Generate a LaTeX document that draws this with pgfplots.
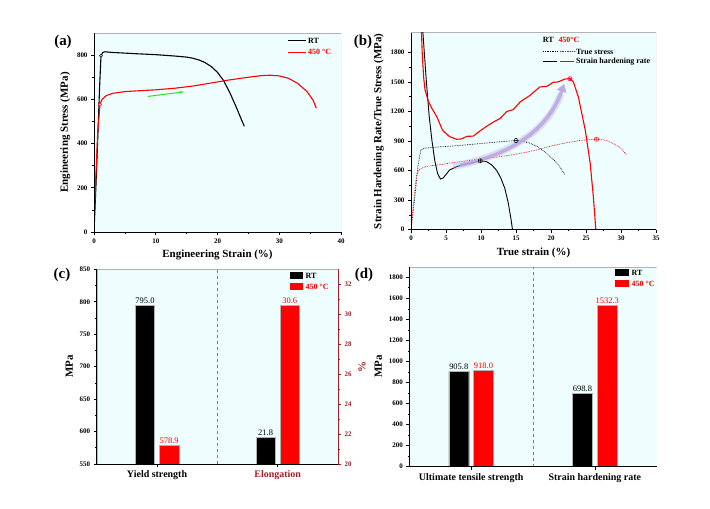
\documentclass[border=0pt]{standalone}
\usepackage{fontspec}
\setmainfont{Liberation Serif}
\usepackage{pgfplots}
\pgfplotsset{compat=1.18}
\usetikzlibrary{arrows.meta}
\definecolor{bgc}{RGB}{238,253,253}
\definecolor{dred}{RGB}{160,30,40}
\definecolor{lav}{RGB}{185,165,225}
\definecolor{grn}{RGB}{40,230,40}
\pgfplotsset{
 myax/.style={scale only axis, anchor=south west, axis on top,
  axis x line*=bottom, axis y line*=left,
  x axis line style={-, line width=0.8bp}, y axis line style={-, line width=0.8bp},
  tick align=outside, major tick length=3bp, minor tick length=1.6bp,
  every tick/.append style={black, line width=0.6bp},
  tick label style={font=\fontsize{7}{8}\selectfont\bfseries},
  /pgf/number format/assume math mode=true,
  /pgf/number format/1000 sep={},
  label style={font=\fontsize{11}{13}\selectfont\bfseries},
 },
 barax/.style={myax, xmin=-0.5, xmax=1.5, xtick={0,1},
  xticklabel style={font=\fontsize{10}{12}\selectfont\bfseries},
  minor y tick num=1},
 bl/.style={ybar, bar width=0.16, bar shift=0pt, fill=black, draw=gray!60, line width=0.3bp,
  nodes near coords={\pgfmathprintnumber[fixed,zerofill,precision=1]{\pgfplotspointmeta}},
  every node near coord/.append style={font=\fontsize{8.5}{10}\selectfont, black, inner sep=1.5bp}},
 rd/.style={ybar, bar width=0.16, bar shift=0pt, fill=red, draw=gray!60, line width=0.3bp,
  nodes near coords={\pgfmathprintnumber[fixed,zerofill,precision=1]{\pgfplotspointmeta}},
  every node near coord/.append style={font=\fontsize{8.5}{10}\selectfont, red, inner sep=1.5bp}},
}
\newcommand{\bgbox}{\path[fill=bgc, draw=gray!60, line width=0.4bp] (rel axis cs:0,0) rectangle (rel axis cs:1,1);}
\begin{document}
\begin{tikzpicture}
\useasboundingbox (0,0) rectangle (710bp,509bp);
% ---------------- (a)
\begin{axis}[myax, at={(94bp,277bp)}, width=247bp, height=199bp,
  xmin=0, xmax=40, ymin=0, ymax=900, xtick={0,10,20,30,40}, ytick={0,200,400,600,800},
  minor x tick num=1, minor y tick num=1,
  xlabel={Engineering Strain (\%)}, ylabel={Engineering Stress (MPa)}]
\bgbox
\addplot[black, line width=1.1bp] coordinates {(0,0) (0.3,200) (0.6,420) (0.9,650) (1.13,797) (1.4,812) (1.8,815) (3,812) (5,809) (7,806) (10,802) (13,796) (15,791) (16,786) (17,778) (18,766) (19,748) (20,722) (21,684) (22,630) (23,567) (24,500) (24.35,478)};
\addplot[red, line width=1.1bp] coordinates {(0,40) (0.3,250) (0.6,450) (0.97,577) (1.3,600) (2,617) (3,627) (5,635) (8,640) (10,643) (13,650) (16,660) (19,674) (22,688) (25,700) (27,707) (28.5,709) (30,706) (31.5,695) (33,672) (34.5,635) (35.5,595) (36,560)};
\addplot[only marks, mark=*, mark size=1.5bp, black, fill=white, line width=0.5bp] coordinates {(1.13,797)};
\addplot[only marks, mark=*, mark size=1.5bp, red, fill=white, line width=0.5bp] coordinates {(0.97,577)};
\draw[grn, line width=1bp, -{Latex[length=4bp,width=3bp]}] (axis cs:8.7,613) -- (axis cs:14.6,634);
\end{axis}
% ---------------- (b)
\begin{axis}[myax, at={(411bp,279.3bp)}, width=245bp, height=197bp,
  xmin=0, xmax=35, ymin=0, ymax=2000, xtick={0,5,...,35}, ytick={0,300,...,1800},
  minor x tick num=1, minor y tick num=1,
  xlabel={True strain (\%)}, ylabel={Strain Hardening Rate/True Stress (MPa)}]
\bgbox
\addplot[black, line width=0.7bp, densely dotted] coordinates {(0,0) (0.5,300) (1,650) (1.4,810) (2,828) (4,840) (6,850) (8,862) (10,875) (12,888) (14,900) (15,905) (16,898) (17,878) (18,845) (19,795) (20,735) (21,665) (22,560)};
\addplot[red, line width=0.7bp, densely dotted] coordinates {(0,0) (0.4,300) (0.8,560) (1.2,610) (2,640) (4,660) (6,680) (8,700) (10,718) (12,735) (14,755) (16,780) (18,810) (20,850) (22,880) (24,905) (26.5,919) (27.5,912) (28.5,890) (29.5,850) (30.2,810) (30.8,760)};
\addplot[black, line width=0.9bp] coordinates {(1.6,2100) (1.8,1900) (2.2,1500) (2.6,1150) (3.0,900) (3.4,700) (3.8,570) (4.2,515) (4.6,525) (5.0,560) (5.5,605) (6.5,640) (8,668) (9.9,699) (10.8,690) (11.5,660) (12.2,605) (12.8,530) (13.4,420) (13.9,270) (14.3,100) (14.5,0)};
\addplot[red, line width=1.1bp] coordinates {(1.45,2100) (1.6,1800) (1.8,1550) (2.0,1420) (2.5,1300) (3,1230) (3.7,1145) (4.5,1010) (5.5,945) (6.5,918) (7.2,922) (8,948) (8.9,950) (9.9,1005) (10.8,1050) (11.8,1094) (12.7,1128) (13.7,1200) (14.6,1219) (15.6,1297) (17,1364) (18.4,1449) (19.4,1455) (20.3,1496) (21,1500) (22,1530) (22.7,1533) (23.2,1500) (23.9,1350) (24.4,1180) (24.9,1010) (25.6,672) (26.05,334) (26.4,0)};
\draw[lav, opacity=0.35, line width=7bp] (axis cs:6,640) .. controls (axis cs:14,760) and (axis cs:19.5,1000) .. (axis cs:21.4,1380);
\draw[lav, opacity=0.85, line width=3.5bp, -{Triangle[length=8bp,width=10bp]}] (axis cs:7,655) .. controls (axis cs:14,760) and (axis cs:19.5,1000) .. (axis cs:21.9,1480);
\addplot[only marks, mark=oplus, mark size=2.2bp, black, line width=0.4bp] coordinates {(15,905) (9.9,699)};
\addplot[only marks, mark=oplus, mark size=2.2bp, red, line width=0.4bp] coordinates {(22.7,1533) (26.5,919)};
\end{axis}
% ---------------- (c)
\begin{axis}[barax, at={(96.7bp,45bp)}, width=241.3bp, height=194.7bp,
  ymin=550, ymax=850, ytick={550,600,...,850},
  xticklabels={Yield strength,{\color{dred}Elongation}},
  ylabel={MPa}]
\bgbox
\draw[gray, dashed, line width=0.5bp] (axis cs:0.5,550) -- (axis cs:0.5,850);
\addplot[bl] coordinates {(-0.1,795.0)};
\addplot[rd] coordinates {(0.1,578.9)};
\end{axis}
\begin{axis}[myax, at={(96.7bp,45bp)}, width=241.3bp, height=194.7bp,
  axis x line=none, axis y line*=right,
  y axis line style={dred, line width=0.8bp},
  every tick/.append style={dred},
  yticklabel style={dred},
  xmin=-0.5, xmax=1.5, ymin=20, ymax=33, ytick={20,22,...,32}, minor y tick num=1,
  ylabel={\%}, ylabel style={dred}]
\addplot[bl] coordinates {(0.9,21.8)};
\addplot[rd] coordinates {(1.1,30.6)};
\end{axis}
% ---------------- (d)
\begin{axis}[barax, at={(409.3bp,42.3bp)}, width=247.4bp, height=200bp,
  ymin=0, ymax=1900, ytick={0,200,...,1800},
  xticklabels={Ultimate tensile strength,Strain hardening rate},
  ylabel={MPa}]
\bgbox
\draw[gray, dashed, line width=0.5bp] (axis cs:0.5,0) -- (axis cs:0.5,1900);
\addplot[bl] coordinates {(-0.1,905.8) (0.9,698.8)};
\addplot[rd] coordinates {(0.1,918.0) (1.1,1532.3)};
\end{axis}
% ---------------- panel labels
\node[font=\fontsize{15}{18}\selectfont\bfseries] at (63bp,467bp) {(a)};
\node[font=\fontsize{15}{18}\selectfont\bfseries] at (363bp,467.5bp) {(b)};
\node[font=\fontsize{15}{18}\selectfont\bfseries] at (62bp,234bp) {(c)};
\node[font=\fontsize{15}{18}\selectfont\bfseries] at (364bp,234bp) {(d)};
% ---------------- legends
\begin{scope}[every node/.style={font=\fontsize{8}{9}\selectfont\bfseries, inner sep=0pt, anchor=west}]
% (a)
\draw[black, line width=1bp] (288bp,468bp) -- (306bp,468bp);
\node at (308bp,468bp) {RT};
\draw[red, line width=1bp] (288bp,456.7bp) -- (306bp,456.7bp);
\node[red] at (308bp,456.7bp) {450 °C};
% (b)
\node at (542.7bp,469.3bp) {RT};
\node[red] at (558.3bp,469.3bp) {450°C};
\draw[black, line width=0.7bp, densely dotted] (543.3bp,457.3bp) -- (557.3bp,457.3bp);
\draw[red, line width=0.7bp, densely dotted] (560bp,457.3bp) -- (574bp,457.3bp);
\node at (576bp,457.3bp) {True stress};
\draw[black, line width=0.9bp] (543.3bp,447.3bp) -- (557.3bp,447.3bp);
\draw[red, line width=0.9bp] (560bp,447.3bp) -- (574bp,447.3bp);
\node at (576bp,447.3bp) {Strain hardening rate};
% (c)
\fill[black] (290bp,229.8bp) rectangle (303bp,236.8bp);
\node at (305.5bp,233.3bp) {RT};
\fill[red] (290bp,218.8bp) rectangle (303bp,225.8bp);
\node[red] at (305.5bp,222.3bp) {450 °C};
% (d)
\fill[black] (615bp,232.8bp) rectangle (629bp,239.8bp);
\node at (631.5bp,236.3bp) {RT};
\fill[red] (615bp,221.5bp) rectangle (629bp,228.5bp);
\node[red] at (631.5bp,225bp) {450 °C};
\end{scope}
\end{tikzpicture}
\end{document}
